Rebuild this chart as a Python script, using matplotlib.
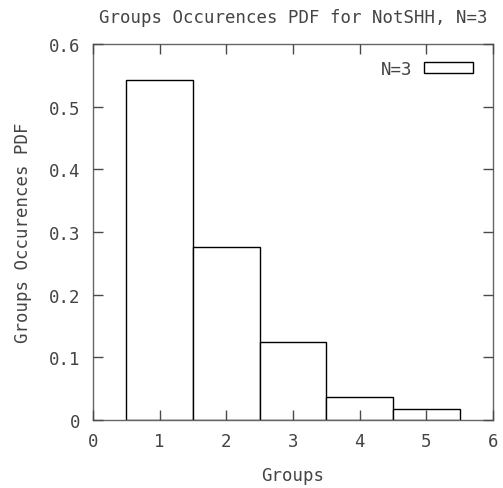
import matplotlib
matplotlib.use("Agg")
import matplotlib.pyplot as plt
from matplotlib.patches import Rectangle

# group counts and their occurrence PDF
groups = [1, 2, 3, 4, 5]
pdf = [0.543, 0.276, 0.125, 0.037, 0.017]
xticks = [0, 1, 2, 3, 4, 5, 6]
yticks = [0, 0.1, 0.2, 0.3, 0.4, 0.5, 0.6]
ytick_labels = ["0", "0.1", "0.2", "0.3", "0.4", "0.5", "0.6"]

plt.rcParams['font.family'] = ['DejaVu Sans Mono']
txt = '#444444'
frame = '#666666'
fs = 12.5

fig = plt.figure(figsize=(5.03, 4.89), dpi=100)
ax = fig.add_axes([93 / 503, 1 - 421 / 489, 400 / 503, 376 / 489])

ax.bar(groups, pdf, width=1.0, facecolor='white', edgecolor='black', linewidth=1.0, zorder=0.5)
# tick marks sit on top of the bars
ax.xaxis.set_zorder(3)
ax.yaxis.set_zorder(3)

ax.set_xlim(0, 6)
ax.set_ylim(0, 0.6)
ax.set_xticks(xticks)
ax.set_yticks(yticks)
ax.set_yticklabels(ytick_labels)
ax.tick_params(direction='in', length=7.5, width=1, colors='#4a4a4a', labelcolor=txt,
               labelsize=fs, top=True, right=True, pad=9)
for s in ax.spines.values():
    s.set_color(frame)
    s.set_linewidth(1)

ax.set_title("Groups Occurences PDF for NotSHH, N=3", fontsize=fs, color=txt, pad=16)
ax.set_xlabel("Groups", fontsize=fs, color=txt, labelpad=11)
ax.set_ylabel("Groups Occurences PDF", fontsize=fs, color=txt, labelpad=12)

# key: label plus an empty box sample
ax.legend([Rectangle((0, 0), 1, 1, facecolor='white', edgecolor='black', linewidth=1)],
          ["N=3"], loc='upper right', bbox_to_anchor=(0.967, 0.977), frameon=False,
          fontsize=fs, handlelength=2.8, handleheight=0.55, handletextpad=0.7,
          markerfirst=False, labelcolor=txt, borderaxespad=0.0)

fig.savefig("out.png", dpi=100)
